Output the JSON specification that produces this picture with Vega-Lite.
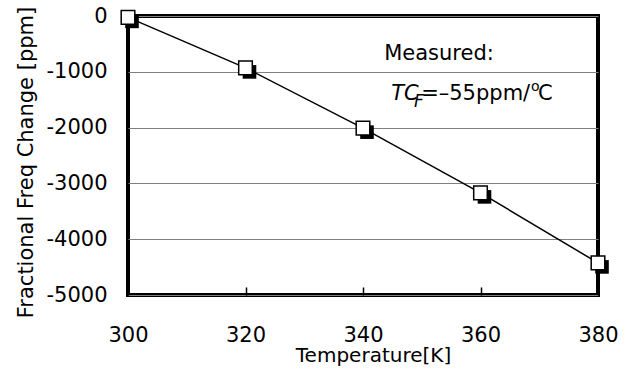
{
  "$schema": "https://vega.github.io/schema/vega-lite/v6.json",
  "width": 470,
  "height": 279,
  "autosize": {"type": "none"},
  "padding": {"left": 128, "top": 16, "right": 32, "bottom": 77},
  "background": "white",
  "config": {
    "view": {"stroke": "black", "strokeWidth": 4},
    "font": "DejaVu Sans"
  },
  "datasets": {
    "meas": [
      {"T": 300, "ppm": -25},
      {"T": 320, "ppm": -930},
      {"T": 340, "ppm": -2010},
      {"T": 360, "ppm": -3170},
      {"T": 380, "ppm": -4425}
    ],
    "one": [{"k": 1}]
  },
  "layer": [
    {
      "data": {"name": "meas"},
      "mark": {"type": "line", "color": "black", "strokeWidth": 1.5},
      "encoding": {
        "x": {
          "field": "T", "type": "quantitative",
          "scale": {"domain": [300, 380], "nice": false, "zero": false},
          "axis": {
            "values": [300, 320, 340, 360, 380],
            "grid": false, "domain": false, "labelFlush": false,
            "tickSize": -8, "tickColor": "black", "tickWidth": 1.5,
            "labelFont": "DejaVu Sans", "labelFontSize": 21, "labelColor": "black",
            "labelBaseline": "alphabetic", "labelPadding": 54,
            "title": "Temperature[K]",
            "titleFont": "DejaVu Sans", "titleFontSize": 20, "titleFontWeight": "normal", "titleColor": "black",
            "titleBaseline": "alphabetic", "titleX": 245, "titleY": 66, "titleAlign": "center"
          }
        },
        "y": {
          "field": "ppm", "type": "quantitative",
          "scale": {"domain": [-5000, 0], "nice": false, "zero": false},
          "axis": {
            "values": [-5000, -4000, -3000, -2000, -1000, 0],
            "grid": true, "gridColor": "#808080", "gridWidth": 1,
            "ticks": false, "domain": false, "labelFlush": false,
            "labelExpr": "toString(datum.value)",
            "labelFont": "DejaVu Sans", "labelFontSize": 21, "labelColor": "black",
            "labelPadding": 21,
            "title": "Fractional Freq Change [ppm]",
            "titleFont": "DejaVu Sans", "titleFontSize": 21, "titleFontWeight": "normal", "titleColor": "black",
            "titlePadding": 9, "titleY": 146
          }
        }
      }
    },
    {
      "data": {"name": "meas"},
      "mark": {"type": "point", "shape": "square", "filled": true, "color": "black", "opacity": 1, "size": 185, "xOffset": 4, "yOffset": 4},
      "encoding": {
        "x": {"field": "T", "type": "quantitative"},
        "y": {"field": "ppm", "type": "quantitative"}
      }
    },
    {
      "data": {"name": "meas"},
      "mark": {"type": "point", "shape": "square", "filled": true, "fill": "white", "stroke": "black", "strokeWidth": 1.5, "opacity": 1, "size": 185},
      "encoding": {
        "x": {"field": "T", "type": "quantitative"},
        "y": {"field": "ppm", "type": "quantitative"}
      }
    },
    {
      "data": {"name": "one"},
      "mark": {"type": "text", "align": "left", "baseline": "alphabetic", "font": "DejaVu Sans", "fontSize": 21, "color": "black"},
      "encoding": {
        "x": {"datum": 343.6},
        "y": {"datum": -784},
        "text": {"value": "Measured:"}
      }
    },
    {
      "data": {"name": "one"},
      "mark": {"type": "text", "align": "left", "baseline": "alphabetic", "font": "DejaVu Sans", "fontSize": 21, "fontStyle": "italic", "color": "black"},
      "encoding": {
        "x": {"datum": 344.8},
        "y": {"datum": -1514},
        "text": {"value": "TC"}
      }
    },
    {
      "data": {"name": "one"},
      "mark": {"type": "text", "align": "left", "baseline": "alphabetic", "font": "DejaVu Sans", "fontSize": 17, "fontStyle": "italic", "color": "black"},
      "encoding": {
        "x": {"datum": 348.7},
        "y": {"datum": -1630},
        "text": {"value": "F"}
      }
    },
    {
      "data": {"name": "one"},
      "mark": {"type": "text", "align": "left", "baseline": "alphabetic", "font": "DejaVu Sans", "fontSize": 21, "color": "black"},
      "encoding": {
        "x": {"datum": 349.9},
        "y": {"datum": -1514},
        "text": {"value": "=–55ppm/"}
      }
    },
    {
      "data": {"name": "one"},
      "mark": {"type": "text", "align": "left", "baseline": "alphabetic", "font": "DejaVu Sans", "fontSize": 14, "color": "black"},
      "encoding": {
        "x": {"datum": 368.6},
        "y": {"datum": -1344},
        "text": {"value": "o"}
      }
    },
    {
      "data": {"name": "one"},
      "mark": {"type": "text", "align": "left", "baseline": "alphabetic", "font": "DejaVu Sans", "fontSize": 21, "color": "black"},
      "encoding": {
        "x": {"datum": 369.8},
        "y": {"datum": -1514},
        "text": {"value": "C"}
      }
    }
  ]
}
